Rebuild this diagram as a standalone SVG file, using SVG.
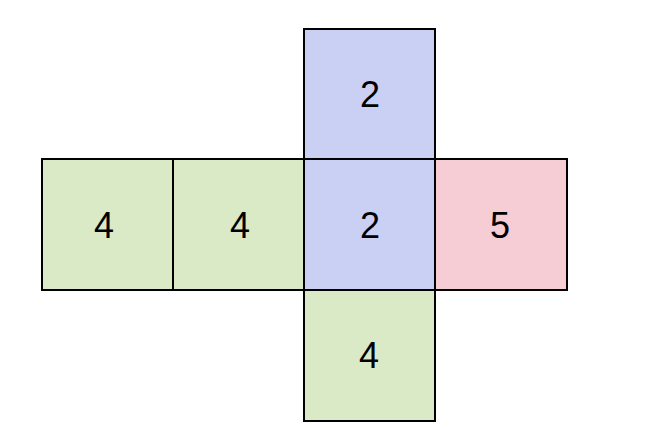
<svg xmlns="http://www.w3.org/2000/svg" width="666" height="428" viewBox="0 0 666 428">
<style>
.sq{stroke:#000;stroke-width:2}
.g{fill:#dae9c6}
.b{fill:#c9d0f4}
.p{fill:#f6cdd5}
text{font-family:"Liberation Sans",Arial,sans-serif;font-size:36px;fill:#000;text-anchor:middle}
</style>
<rect width="666" height="428" fill="#fff"/>
<g id="top"><rect class="sq b" x="304" y="29" width="131" height="130"/><text x="370" y="107">2</text></g>
<g id="left1"><rect class="sq g" x="42" y="159" width="131" height="131"/><text x="104" y="238">4</text></g>
<g id="left2"><rect class="sq g" x="173" y="159" width="131" height="131"/><text x="240" y="238">4</text></g>
<g id="center"><rect class="sq b" x="304" y="159" width="131" height="131"/><text x="370" y="238">2</text></g>
<g id="right"><rect class="sq p" x="435" y="159" width="132" height="131"/><text x="500" y="238">5</text></g>
<g id="bottom"><rect class="sq g" x="304" y="290" width="131" height="131"/><text x="369" y="368">4</text></g>
<g id="connectors"></g>
</svg>
